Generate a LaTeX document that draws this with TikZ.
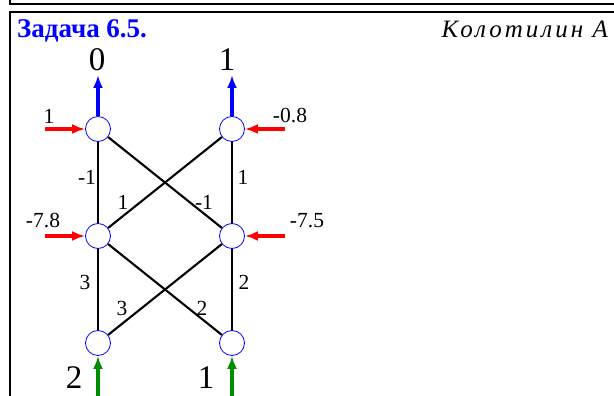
\documentclass[tikz,border=0pt]{standalone}
\usepackage{fontspec}
\setmainfont{Liberation Serif}
\newfontfamily\authorfont[LetterSpace=12]{Liberation Serif}
\usetikzlibrary{arrows.meta, positioning}

\begin{document}
\begin{tikzpicture}[x=1pt, y=-1pt, font=\fontsize{21.5}{24}\selectfont,
  neuron/.style={circle, draw=blue, line width=0.8pt, minimum size=25pt, inner sep=0pt},
  link/.style={line width=2.1pt},
  io/.style={line width=3.2pt, -{Latex[length=13pt, width=10pt]}},
  big/.style={font=\fontsize{33}{36}\selectfont}]

  \useasboundingbox (0,0) rectangle (614,396);

  % columns and rows of the net
  \def\xL{98}
  \def\xR{232}
  \def\yTop{129}
  \def\yMid{236}
  \def\yBot{343}

  % frame of the page
  \draw[line width=1.8pt] (10,0) -- (10,4) -- (614,4);
  \draw[line width=1.8pt] (614,12) -- (10,12) -- (10,396);

  % heading
  \node[anchor=base west, inner sep=0pt, text=blue, font=\bfseries\fontsize{27}{30}\selectfont] (title) at (17,38) {Задача 6.5.};
  \node[anchor=base east, inner sep=0pt, font=\authorfont\itshape\fontsize{25}{28}\selectfont] (author) at (608,38) {Колотилин А};

  % neurons
  \node[neuron] (o1) at (\xL,\yTop) {};
  \node[neuron] (o2) at (\xR,\yTop) {};
  \node[neuron] (h1) at (\xL,\yMid) {};
  \node[neuron] (h2) at (\xR,\yMid) {};
  \node[neuron] (x1) at (\xL,\yBot) {};
  \node[neuron] (x2) at (\xR,\yBot) {};

  % links
  \foreach \a/\b in {o1/h1, o1/h2, o2/h1, o2/h2, h1/x1, h1/x2, h2/x1, h2/x2}
    \draw[link] (\a) -- (\b);

  % weights
  \node (w1) at (87,177) {-1};
  \node (w2) at (243,177) {1};
  \node (w3) at (123,202) {1};
  \node (w4) at (204,202) {-1};
  \node (w5) at (85,282) {3};
  \node (w6) at (244,282) {2};
  \node (w7) at (122,308) {3};
  \node (w8) at (202,308) {2};

  % outputs (up)
  \coordinate (t1) at (\xL,75);
  \coordinate (t2) at (\xR,75);
  \draw[io, blue] (o1) -- (t1);
  \draw[io, blue] (o2) -- (t2);
  \node[big] (y1) at (97,60) {0};
  \node[big] (y2) at (227,60) {1};

  % biases (from the sides)
  \coordinate (b1) at (45,\yTop);
  \coordinate (b2) at (285,\yTop);
  \coordinate (b3) at (45,\yMid);
  \coordinate (b4) at (285,\yMid);
  \draw[io, red] (b1) -- (o1);
  \draw[io, red] (b2) -- (o2);
  \draw[io, red] (b3) -- (h1);
  \draw[io, red] (b4) -- (h2);
  \node (bl1) at (49,116) {1};
  \node (bl2) at (290,116) {-0.8};
  \node (bl3) at (43,221) {-7.8};
  \node (bl4) at (307,221) {-7.5};

  % inputs (from below)
  \coordinate (s1) at (\xL,396);
  \coordinate (s2) at (\xR,396);
  \draw[io, green!55!black] (s1) -- (x1);
  \draw[io, green!55!black] (s2) -- (x2);
  \node[big] (in1) at (74,378) {2};
  \node[big] (in2) at (206,378) {1};

\end{tikzpicture}
\end{document}
